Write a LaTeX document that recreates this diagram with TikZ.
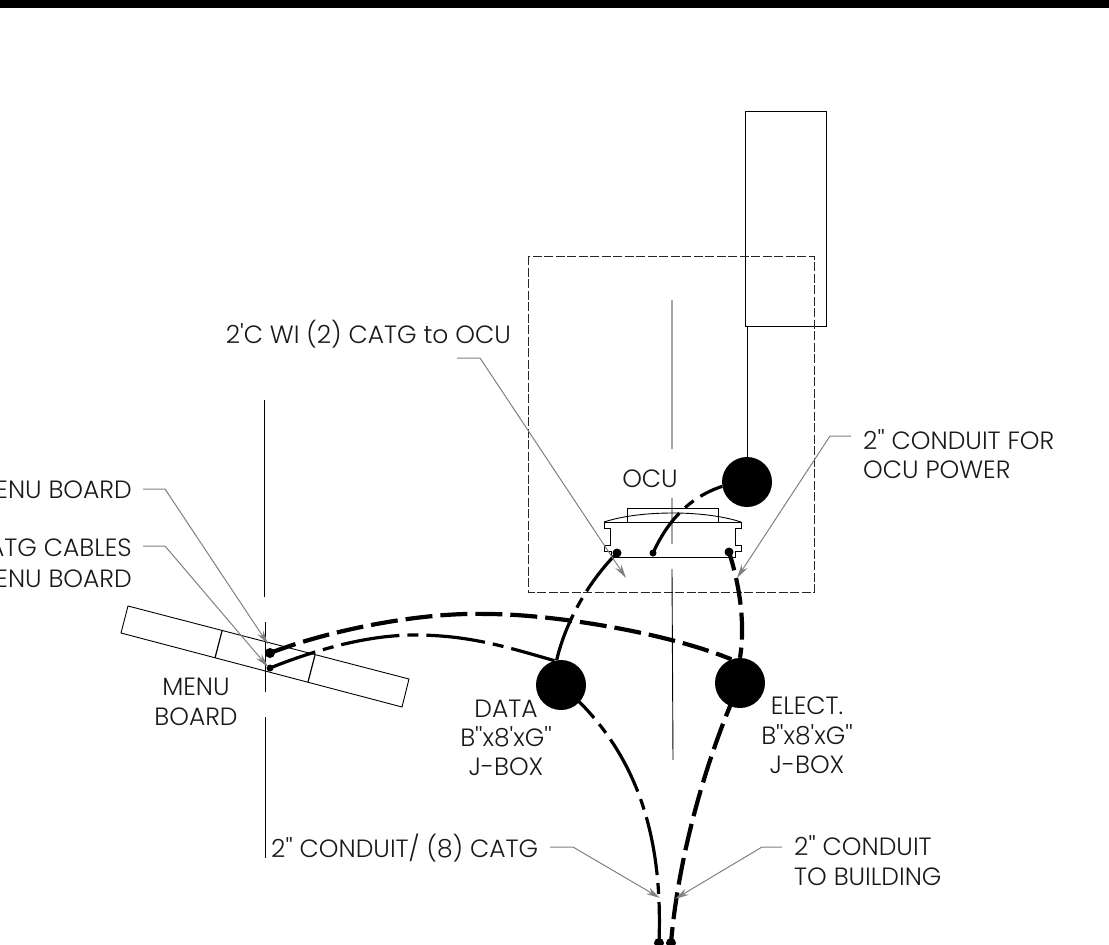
\documentclass[tikz,border=0pt]{standalone}
\usepackage{fontspec}
\setmainfont{Poppins Light}[Ligatures=TeXOff]
\usetikzlibrary{arrows.meta}
\tikzset{
  every node/.style={font=\fontsize{25}{30}\selectfont, text=black!90, inner sep=0pt},
  thinline/.style={draw=black, line width=0.9pt},
  jbox/.style={circle, fill=black, minimum size=50pt},
  enddot/.style={circle, fill=black, minimum size=7pt},
  leader/.style={draw=black!50, line width=1pt, -{Stealth[length=14pt,width=7pt]}},
  longdash/.style={draw=black, line width=4.2pt, dash pattern=on 27pt off 8pt},
  dashdot/.style={draw=black, line width=3.2pt, dash pattern=on 59pt off 8pt on 11pt off 8pt},
}
\begin{document}
\begin{tikzpicture}[x=1pt,y=-1pt]
\useasboundingbox (0,0) rectangle (1109,945);
\clip (0,0) rectangle (1109,945);
\fill[black] (0,0) rectangle (1109,8);
% equipment outlines
\draw[thinline] (745,326) -- (745,111) -- (826,111) -- (826,326) -- (745,326);
\draw[thinline, draw=black!85, dash pattern=on 9pt off 2.5pt] (528,256) rectangle (814,592);
\draw[thinline] (672,300) -- (672,449) (672,498) -- (672,544) (672,569) -- (673,760);
\draw[thinline] (264,400) -- (264,597) (265,622) -- (265,692) (265,717) -- (265,858);
% OCU
\draw[thinline] (627,522) -- (627,508) -- (718,508) -- (718,522);
\draw[thinline] (604,522) .. controls (640,510) and (705,510) .. (741,522);
\draw[thinline] (604,522) -- (741,522) -- (741,528) -- (735,528) -- (735,545) -- (741,545) -- (741,551) -- (735,551) -- (735,557) -- (611,557) -- (611,551) -- (604,551) -- (604,545) -- (610,545) -- (610,528) -- (604,528) -- cycle;
% menu board
\draw[thinline] (128,606) -- (409,679) -- (402,707) -- (121,633) -- cycle;
\draw[thinline, line width=1.2pt] (222,631) -- (215,658) (315,655) -- (308,682);
% junctions and ends
\node[enddot] (dA) at (653,553) {};
\node[enddot, minimum size=9pt] (dB) at (617,553) {};
\node[enddot, minimum size=9pt] (dC) at (729,552) {};
\node[enddot, minimum size=10pt] (dD) at (270,653) {};
\node[enddot] (dE) at (270,668) {};
\node[enddot, minimum size=10pt] (dF) at (659,943) {};
\node[enddot, minimum size=10pt] (dG) at (671,943) {};
\node[jbox] (ocubox) at (747,482) {};
\node[jbox] (data) at (561,685) {};
\node[jbox] (elect) at (740,683) {};
\coordinate (eVert) at (747,326);
\draw[thinline] (eVert) -- (ocubox);
% conduits
\draw[dashdot, dash phase=11pt] (dA.center) .. controls (668,520) and (690,497) .. (ocubox.190);
\draw[dashdot, dash phase=10pt] (dB.center) .. controls (590,580) and (566,620) .. (data.100);
\draw[longdash, dash phase=8pt] (dC.center) .. controls (738,580) and (746,620) .. (elect.90);
\draw[longdash] (dD.center) .. controls (330,630) and (420,612) .. (487,614) .. controls (550,614) and (665,632) .. (elect.110);
\draw[dashdot, dash phase=11pt] (dE.center) .. controls (320,648) and (370,635) .. (415,635) .. controls (470,635) and (510,648) .. (data.105);
\draw[dashdot, dash phase=18pt] (dF.center) .. controls (662,860) and (650,760) .. (data.center);
\draw[longdash, dash phase=11pt] (dG.center) .. controls (678,860) and (705,760) .. (elect.center);
% labels
\node[anchor=base east] (lWi) at (511,343) {2'C WI (2) CATG to OCU};
\node[anchor=base] (lOcu) at (650,487) {OCU};
\node[anchor=base west] (lPow) at (863,449) {2'' CONDUIT FOR};
\node[anchor=base west] (lPow2) at (863,478) {OCU POWER};
\node[anchor=base east] (lMb) at (132,498) {MENU BOARD};
\node[anchor=base east] (lCat) at (132,556) {CATG CABLES};
\node[anchor=base east] (lMb2) at (132,587) {MENU BOARD};
\node[anchor=base] (lMenu) at (196,695) {MENU};
\node[anchor=base] (lBoard) at (196,725) {BOARD};
\node[anchor=base] (lData) at (506,717) {DATA};
\node[anchor=base] (lDs) at (506,746) {B''x8'xG''};
\node[anchor=base] (lDj) at (506,775) {J-BOX};
\node[anchor=base] (lEl) at (807,714) {ELECT.};
\node[anchor=base] (lEs) at (807,744) {B''x8'xG''};
\node[anchor=base] (lEj) at (807,773) {J-BOX};
\node[anchor=base west] (lCon) at (271,857) {2'' CONDUIT/ (8) CATG};
\node[anchor=base west] (lBld) at (794,855) {2'' CONDUIT};
\node[anchor=base west] (lBld2) at (794,885) {TO BUILDING};
% leaders
\coordinate (tA) at (268,644);
\coordinate (tB) at (268,667);
\coordinate (tC) at (626,578);
\coordinate (tD) at (737,578);
\coordinate (tE) at (660,898);
\coordinate (tF) at (675,899);
\draw[leader] (143,489) -- (165,489) -- (tA);
\draw[leader] (143,546) -- (165,546) -- (tB);
\draw[leader] (457,358) -- (480,358) -- (tC);
\draw[leader] (851,436) -- (830,436) -- (tD);
\draw[leader] (550,847) -- (573,847) -- (tE);
\draw[leader] (782,847) -- (762,847) -- (tF);
\end{tikzpicture}
\end{document}
